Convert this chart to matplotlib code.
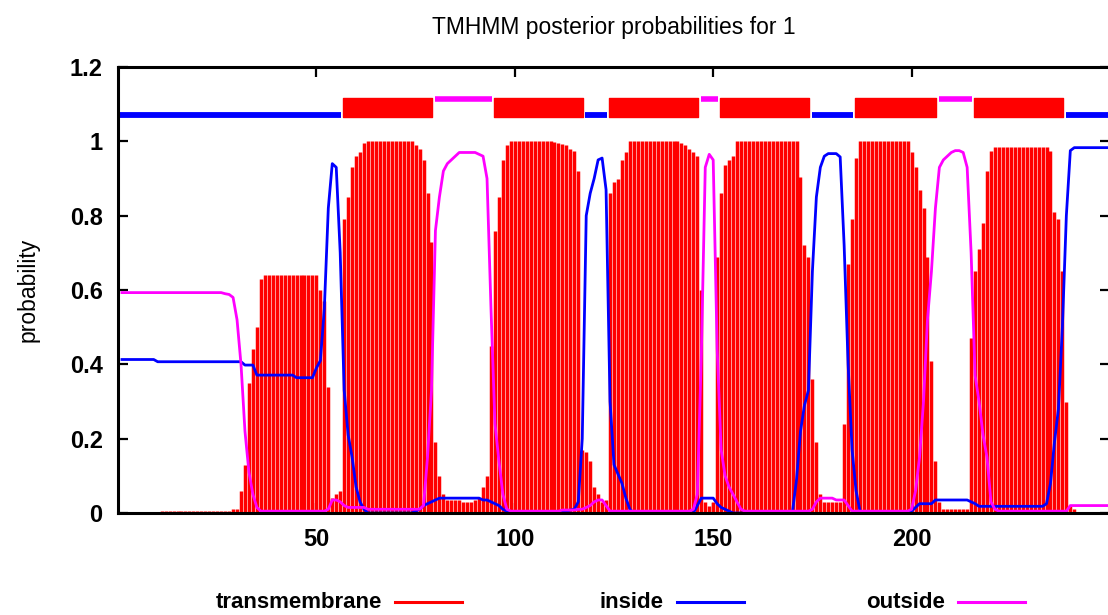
import numpy as np
import matplotlib
matplotlib.use('Agg')
from matplotlib import pyplot as plt
from matplotlib.lines import Line2D

plt.rcParams['font.family'] = ['Liberation Sans', 'DejaVu Sans']

# posterior probabilities per residue (1..250)
tm = ([0.0]*10 + [0.005]*18 +
      [0.01, 0.01, 0.06, 0.13, 0.35, 0.44, 0.50, 0.63] +
      [0.64]*14 +
      [0.60, 0.57, 0.34, 0.04, 0.05, 0.06] +
      [0.79, 0.85, 0.93, 0.96, 0.97, 0.995] +
      [1.0]*12 +
      [0.99, 0.98, 0.95, 0.86, 0.73, 0.19, 0.10, 0.05] +
      [0.035]*4 + [0.03]*3 + [0.035, 0.04, 0.07, 0.10, 0.45] +
      [0.76, 0.85, 0.95, 0.99] +
      [1.0]*11 +
      [0.998, 0.995, 0.993, 0.99, 0.98, 0.975, 0.92] +
      [0.17, 0.165, 0.14, 0.07, 0.05, 0.03, 0.035] +
      [0.86, 0.89, 0.90, 0.95, 0.97] +
      [1.0]*13 +
      [0.995, 0.99, 0.98, 0.97, 0.96, 0.60, 0.03, 0.02, 0.03] +
      [0.69, 0.86, 0.935, 0.95, 0.96] +
      [1.0]*16 +
      [0.905, 0.72, 0.69, 0.36, 0.19, 0.05] +
      [0.03]*5 +
      [0.24, 0.67, 0.79, 0.955] +
      [1.0]*13 +
      [0.97, 0.93, 0.87, 0.82, 0.69, 0.41, 0.14, 0.03] +
      [0.01]*7 +
      [0.47, 0.65, 0.71, 0.78, 0.92, 0.975] +
      [0.985]*14 +
      [0.975, 0.81, 0.79, 0.65, 0.30, 0.02, 0.01] +
      [0.0]*9)

inside = ([0.413]*9 + [0.407]*22 + [0.398]*3 + [0.371]*10 + [0.364]*5 +
          [0.39, 0.41, 0.55, 0.82, 0.94, 0.93, 0.70, 0.33, 0.21, 0.15, 0.07, 0.03, 0.01] +
          [0.0]*12 +
          [0.005, 0.01, 0.02, 0.025, 0.03, 0.035] +
          [0.04]*11 +
          [0.035, 0.035, 0.03, 0.025, 0.02, 0.01, 0.005] +
          [0.0]*13 +
          [0.005, 0.005, 0.008, 0.01, 0.03, 0.20] +
          [0.80, 0.86, 0.90, 0.95, 0.955, 0.87] +
          [0.30, 0.13, 0.105, 0.08, 0.04, 0.01] +
          [0.0]*16 +
          [0.02, 0.04, 0.04, 0.04, 0.04, 0.025, 0.015, 0.01, 0.005] +
          [0.0]*15 +
          [0.005, 0.09, 0.22, 0.29, 0.33, 0.65, 0.85, 0.93, 0.96] +
          [0.967]*3 +
          [0.958, 0.72, 0.40, 0.17, 0.06, 0.005] +
          [0.0]*12 +
          [0.005, 0.015] + [0.025]*4 + [0.035]*9 + [0.03, 0.025] +
          [0.018]*17 +
          [0.025, 0.08, 0.19, 0.28, 0.50, 0.80, 0.975] +
          [0.983]*10)

outside = ([0.593]*26 +
           [0.59, 0.588, 0.58, 0.52, 0.40, 0.22, 0.11, 0.05, 0.015] +
           [0.005]*17 +
           [0.01, 0.035, 0.035, 0.03, 0.02] +
           [0.015]*5 +
           [0.01]*14 +
           [0.02, 0.15, 0.33, 0.76, 0.85, 0.92, 0.94, 0.95, 0.96] +
           [0.97]*5 +
           [0.965, 0.96, 0.90, 0.55, 0.24, 0.14, 0.05, 0.01] +
           [0.005]*13 +
           [0.008]*4 +
           [0.01, 0.01, 0.015, 0.02, 0.03, 0.035, 0.035, 0.02, 0.005] +
           [0.005]*20 +
           [0.01, 0.05, 0.42, 0.93, 0.965, 0.95, 0.44, 0.17, 0.10, 0.07, 0.05, 0.03, 0.01] +
           [0.005]*17 +
           [0.01, 0.03] + [0.04]*4 + [0.035]*3 + [0.02] +
           [0.005]*15 +
           [0.01, 0.06, 0.15, 0.30, 0.52, 0.65, 0.82, 0.93, 0.95, 0.96, 0.97, 0.975, 0.975, 0.97] +
           [0.93, 0.70, 0.37, 0.30, 0.21, 0.15, 0.03, 0.01] +
           [0.005]*18 +
           [0.02]*11)

residues = np.arange(1, len(tm) + 1)

# predicted topology: (kind, first residue, last residue)
topology = [('inside', 1, 56), ('tm', 57, 79), ('outside', 80, 94),
            ('tm', 95, 117), ('inside', 118, 123), ('tm', 124, 146),
            ('outside', 147, 151), ('tm', 152, 174), ('inside', 175, 185),
            ('tm', 186, 206), ('outside', 207, 215), ('tm', 216, 238),
            ('inside', 239, 250)]

legend_labels = ['transmembrane', 'inside', 'outside']
colors = {'tm': '#ff0000', 'inside': '#0000ff', 'outside': '#ff00ff'}

fig = plt.figure(figsize=(11.08, 6.15), dpi=100)
ax = fig.add_axes([118/1108, 102/615, 992/1108, 446/615])

ax.vlines(residues, 0, tm, color=colors['tm'], linewidth=2.5)
ax.plot(residues, inside, color=colors['inside'], linewidth=2.0)
ax.plot(residues, outside, color=colors['outside'], linewidth=2.0)

# topology bar on top
for kind, a, b in topology:
    x0, x1 = a - 0.2, b + 0.2
    if a == 1:
        x0 = 0
    if kind == 'tm':
        ax.broken_barh([(x0, x1 - x0)], (1.066, 0.05), color=colors['tm'])
    elif kind == 'inside':
        ax.hlines(1.072, x0, x1, color=colors['inside'], linewidth=4.2)
    else:
        ax.hlines(1.113, x0, x1, color=colors['outside'], linewidth=4.0)

ax.set_xlim(0, 250)
ax.set_ylim(0, 1.2)
ax.set_xticks([50, 100, 150, 200])
ax.set_yticks([0, 0.2, 0.4, 0.6, 0.8, 1.0, 1.2])
ax.set_yticklabels(['0', '0.2', '0.4', '0.6', '0.8', '1', '1.2'])
ax.tick_params(direction='in', top=True, right=True, length=7, width=1.6,
               labelsize=17)
ax.tick_params(axis='y', pad=11)
ax.tick_params(axis='x', pad=11)
for lab in ax.get_xticklabels() + ax.get_yticklabels():
    lab.set_fontweight('bold')
for sp in ax.spines.values():
    sp.set_linewidth(2.2)

ax.set_title('TMHMM posterior probabilities for 1', fontsize=16.5, pad=24)
ax.set_ylabel('probability', fontsize=16.5, labelpad=22)

# key below the plot, text right-justified before each sample line
ky = 13/615
for i, (lab, kind) in enumerate(zip(legend_labels, ['tm', 'inside', 'outside'])):
    xe = (462 + 281.5*i)/1108
    fig.add_artist(Line2D([xe - 67/1108, xe], [ky, ky], color=colors[kind],
                          linewidth=2.2, transform=fig.transFigure))
    fig.text(xe - 80/1108, ky, lab, ha='right', va='center', fontsize=16,
             fontweight='bold')

fig.savefig('out.png', dpi=100)
